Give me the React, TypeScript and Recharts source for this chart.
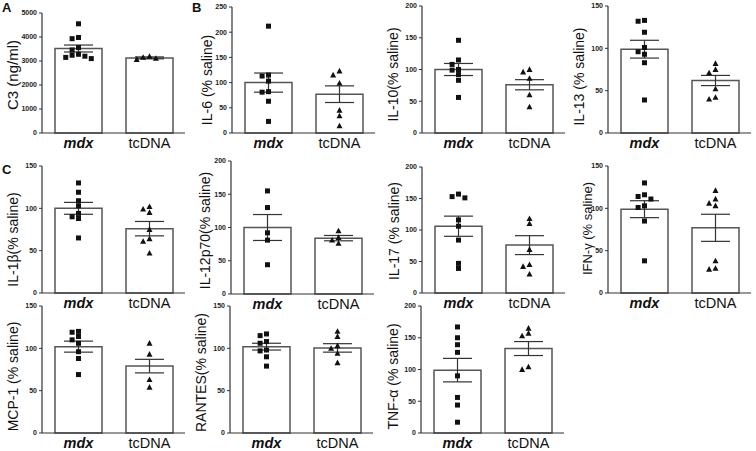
import React from 'react';
import { ComposedChart, Bar, Scatter, ErrorBar, XAxis, YAxis } from 'recharts';

const FONT = "'Liberation Sans', Arial, sans-serif";

const groups = ['mdx', 'tcDNA'];

const t150 = [0, 50, 100, 150];
const t200 = [0, 50, 100, 150, 200];
const t250 = [0, 50, 100, 150, 200, 250];
const c3Ticks = [0, 1000, 2000, 3000, 4000, 5000];

// individual animals
const c3Mdx = [4550, 3980, 3930, 3560, 3460, 3280, 3240, 3200, 3150, 3100];
const c3Tc = [3190, 3150, 3110, 3060];
const c3Mean = [3520, 3130];
const c3Sem = [145, 40];

const il6Mdx = [212, 115, 113, 103, 82, 81, 63, 23];
const il6Tc = [123, 115, 99, 45, 34, 14];
const il6Mean = [100, 77];
const il6Sem = [19, 16.5];

const il10Mdx = [146, 115, 108, 100, 99, 92, 83, 56];
const il10Tc = [100, 96, 86, 60, 41];
const il10Mean = [100, 76];
const il10Sem = [9.5, 8];

const il13Mdx = [133, 132, 119, 101, 96, 93, 83, 39];
const il13Tc = [82, 75, 71, 52, 42, 40];
const il13Mean = [99, 62];
const il13Sem = [10.5, 6];

const il1bMdx = [130, 119, 109, 103, 94, 90, 88, 65];
const il1bTc = [102, 99, 95, 75, 64, 61, 47];
const il1bMean = [100, 76];
const il1bSem = [7, 8.5];

const il12Mdx = [155, 130, 92, 81, 44];
const il12Tc = [95, 85, 81, 76];
const il12Mean = [100, 84];
const il12Sem = [19.5, 4];

const il17Mdx = [157, 153, 151, 116, 106, 84, 47, 39];
const il17Tc = [118, 110, 69, 45, 42, 30];
const il17Mean = [106, 76];
const il17Sem = [16, 15];

const ifnMdx = [130, 116, 114, 111, 103, 101, 85, 38];
const ifnTc = [121, 111, 106, 103, 38, 29, 28];
const ifnMean = [99, 77];
const ifnSem = [10, 16];

const mcpMdx = [120, 119, 114, 110, 106, 96, 88, 69];
const mcpTc = [106, 93, 63, 54];
const mcpMean = [102, 79];
const mcpSem = [6.5, 8];

const rantesMdx = [117, 115, 108, 106, 98, 97, 90, 79];
const rantesTc = [120, 114, 103, 100, 94, 83];
const rantesMean = [102, 100.5];
const rantesSem = [4, 5];

const tnfMdx = [167, 150, 139, 127, 90, 56, 44, 17];
const tnfTc = [165, 157, 153, 104, 100];
const tnfMean = [99, 133];
const tnfSem = [18.5, 11];

type P = {
  label: string; ticks: number[];
  mdx: number[]; tc: number[]; mean: number[]; sem: number[];
  axisX: number; top: number; bottom: number; ldx: number; ldy: number; lfs?: number;
};

const panels: P[] = [
  { label: 'C3 (ng/ml)', ticks: c3Ticks, mdx: c3Mdx, tc: c3Tc, mean: c3Mean, sem: c3Sem, axisX: 42, top: 13, bottom: 133, ldx: 30, ldy: 2, lfs: 15 },
  { label: 'IL-6 (% saline)', ticks: t250, mdx: il6Mdx, tc: il6Tc, mean: il6Mean, sem: il6Sem, axisX: 232, top: 7, bottom: 133, ldx: 25, ldy: 10 },
  { label: 'IL-10(% saline)', ticks: t200, mdx: il10Mdx, tc: il10Tc, mean: il10Mean, sem: il10Sem, axisX: 422, top: 6, bottom: 133, ldx: 29, ldy: 5 },
  { label: 'IL-13 (% saline)', ticks: t150, mdx: il13Mdx, tc: il13Tc, mean: il13Mean, sem: il13Sem, axisX: 608, top: 6, bottom: 133, ldx: 29, ldy: 7 },
  { label: 'IL-1β(% saline)', ticks: t150, mdx: il1bMdx, tc: il1bTc, mean: il1bMean, sem: il1bSem, axisX: 42, top: 166, bottom: 293, ldx: 29, ldy: 10 },
  { label: 'IL-12p70(% saline)', ticks: t200, mdx: il12Mdx, tc: il12Tc, mean: il12Mean, sem: il12Sem, axisX: 231, top: 161, bottom: 294, ldx: 26, ldy: 3 },
  { label: 'IL-17 (% saline)', ticks: t200, mdx: il17Mdx, tc: il17Tc, mean: il17Mean, sem: il17Sem, axisX: 422, top: 167, bottom: 293, ldx: 28, ldy: 1 },
  { label: 'IFN-γ (% saline)', ticks: t150, mdx: ifnMdx, tc: ifnTc, mean: ifnMean, sem: ifnSem, axisX: 608, top: 166, bottom: 293, ldx: 21, ldy: -1, lfs: 13 },
  { label: 'MCP-1 (% saline)', ticks: t150, mdx: mcpMdx, tc: mcpTc, mean: mcpMean, sem: mcpSem, axisX: 42, top: 306, bottom: 433, ldx: 29, ldy: 7 },
  { label: 'RANTES(% saline)', ticks: t150, mdx: rantesMdx, tc: rantesTc, mean: rantesMean, sem: rantesSem, axisX: 230, top: 306, bottom: 433, ldx: 29, ldy: 3 },
  { label: 'TNF-α (% saline)', ticks: t200, mdx: tnfMdx, tc: tnfTc, mean: tnfMean, sem: tnfSem, axisX: 421, top: 306, bottom: 433, ldx: 28, ldy: 7 },
];

// simple beeswarm: nudge points sideways when they would overlap
function spread(vals: number[], max: number, gi: number) {
  const thr = max * 0.04;
  const placed: { v: number; o: number }[] = [];
  return vals.map(v => {
    const near = placed.filter(q => Math.abs(q.v - v) < thr);
    const o = [0, -1, 1, -2, 2].find(k => !near.some(q => q.o === k)) ?? 0;
    placed.push({ v, o });
    return { x: gi + 0.5 + o * 0.09, y: v };
  });
}

const Square = (p: any) => <rect x={p.cx - 2.5} y={p.cy - 2.5} width={5} height={5} fill="#111" />;
const Tri = (p: any) => (
  <polygon points={`${p.cx},${p.cy - 3.2} ${p.cx - 3},${p.cy + 2.4} ${p.cx + 3},${p.cy + 2.4}`} fill="#111" />
);

const XTick = (props: any) => {
  const { x, y, payload } = props;
  const isMdx = payload.value === 'mdx';
  return (
    <text x={x} y={y} dy={13} textAnchor="middle" fontFamily={FONT} fontSize={14.5}
      fontWeight={isMdx ? 'bold' : 'normal'} fontStyle={isMdx ? 'italic' : 'normal'} fill="#111">
      {payload.value}
    </text>
  );
};

function Panel({ p }: { p: P }) {
  const YW = 44, MT = 6, XH = 20, W = 190;
  const h = p.bottom - p.top;
  const max = p.ticks[p.ticks.length - 1];
  const barData = groups.map((g, i) => ({ g, mean: p.mean[i], sem: p.sem[i] }));
  const ptsM = spread(p.mdx, max, 0);
  const ptsT = spread(p.tc, max, 1);
  const fs = p.lfs ?? 14;
  return (
    <div style={{ position: 'absolute', left: p.axisX - YW, top: p.top - MT }}>
      <ComposedChart width={W} height={MT + h + XH} data={barData}
        margin={{ top: MT, right: 3, bottom: 0, left: 0 }}>
        <XAxis xAxisId="cat" dataKey="g" type="category" padding={{ left: 1, right: 0 }}
          height={XH} tickSize={0} tickLine={false} interval={0}
          axisLine={{ stroke: '#333', strokeWidth: 1.2 }} tick={XTick} />
        <XAxis xAxisId="pts" type="number" dataKey="x" domain={[0, 2]} hide
          padding={{ left: 1, right: 0 }} />
        <YAxis width={YW} type="number" domain={[0, max]} ticks={p.ticks} interval={0}
          tickSize={3} tickMargin={2}
          axisLine={{ stroke: '#333', strokeWidth: 1.2 }} tickLine={{ stroke: '#333' }}
          tick={{ fontSize: 7, fontWeight: 'bold', fill: '#222', fontFamily: FONT }}
          label={{
            content: (lp: any) => {
              const vb = lp.viewBox;
              const cx = vb.x + vb.width - p.ldx;
              const cy = vb.y + vb.height / 2 + p.ldy;
              return (
                <text x={cx} y={cy} transform={`rotate(-90 ${cx} ${cy})`} textAnchor="middle"
                  dominantBaseline="central" fontFamily={FONT} fontSize={fs} fill="#111">
                  {p.label}
                </text>
              );
            },
          }} />
        <Bar xAxisId="cat" dataKey="mean" barSize={47} fill="#fff" stroke="#555" strokeWidth={1.5}
          isAnimationActive={false}>
          <ErrorBar dataKey="sem" width={14.5} stroke="#333" strokeWidth={1.2} />
        </Bar>
        <Scatter xAxisId="pts" data={ptsM} dataKey="y" shape={Square} isAnimationActive={false} />
        <Scatter xAxisId="pts" data={ptsT} dataKey="y" shape={Tri} isAnimationActive={false} />
      </ComposedChart>
    </div>
  );
}

const letter = (t: string, left: number, top: number) => (
  <div style={{ position: 'absolute', left, top, fontFamily: FONT, fontWeight: 'bold', fontSize: 13, lineHeight: '13px', color: '#111' }}>{t}</div>
);

export default function App() {
  return (
    <div style={{ position: 'relative', width: 756, height: 451, background: '#fff', overflow: 'hidden' }}>
      <style>{'body{margin:0}'}</style>
      {panels.map((p, i) => <Panel key={i} p={p} />)}
      {letter('A', 2, 1)}
      {letter('B', 192, 1)}
      {letter('C', 2, 163)}
    </div>
  );
}
